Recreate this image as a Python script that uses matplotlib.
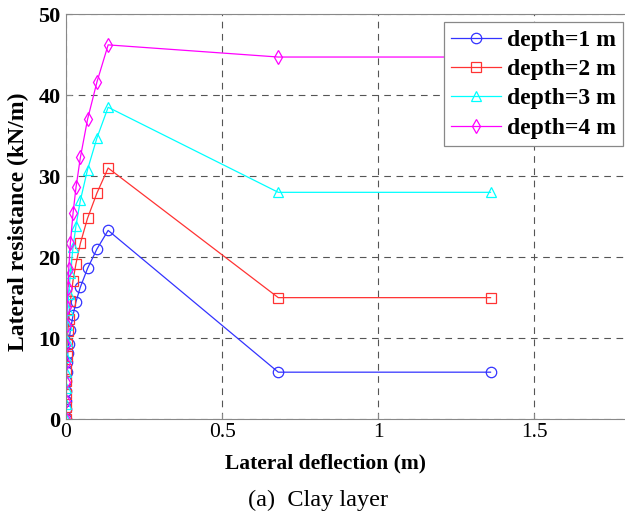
import matplotlib.pyplot as plt

plt.rcParams['font.family'] = ['Liberation Serif', 'DejaVu Serif']

# lateral deflection (m), shared by all depths
deflection = [0, 0.00002, 0.00014, 0.00046, 0.0011, 0.0021, 0.0037, 0.0058, 0.0087,
              0.014, 0.0225, 0.032, 0.046, 0.069, 0.099, 0.135, 0.68, 1.36]

# lateral resistance (kN/m) at each depth
p_depth1 = [0, 1.2, 2.3, 3.5, 4.7, 5.8, 7.0, 8.2, 9.3,
            11.0, 12.8, 14.5, 16.3, 18.6, 21.0, 23.3, 5.8, 5.8]
p_depth2 = [0, 1.55, 3.1, 4.65, 6.2, 7.75, 9.3, 10.9, 12.4,
            14.6, 17.1, 19.2, 21.7, 24.8, 27.9, 31.0, 15.0, 15.0]
p_depth3 = [0, 1.9, 3.85, 5.8, 7.7, 9.6, 11.6, 13.5, 15.4,
            18.1, 21.2, 23.9, 27.0, 30.8, 34.7, 38.5, 28.0, 28.0]
p_depth4 = [0, 2.3, 4.6, 6.9, 9.2, 11.6, 13.9, 16.2, 18.5,
            21.7, 25.4, 28.6, 32.3, 37.0, 41.6, 46.2, 44.7, 44.7]

labels = ['depth=1 m', 'depth=2 m', 'depth=3 m', 'depth=4 m']
colors = ['#3333ff', '#ff3333', '#00ffff', '#ff00ff']
markers = ['o', 's', '^', 'd']

fig = plt.figure(figsize=(6.25, 5.22), dpi=100)
ax = fig.add_axes([0.1056, 0.197, 0.899, 0.776])

for p, lab, c, m in zip([p_depth1, p_depth2, p_depth3, p_depth4], labels, colors, markers):
    ax.plot(deflection, p, color=c, marker=m, markersize=7.5, markerfacecolor='none',
            markeredgewidth=0.9, linewidth=0.9, label=lab)

ax.set_xlim(0, 1.8)
ax.set_ylim(0, 50)
ax.set_xticks([0, 0.5, 1, 1.5])
ax.set_xticklabels(['0', '0.5', '1', '1.5'])
ax.set_yticks([0, 10, 20, 30, 40, 50])
ax.grid(True, linestyle=(0, (6, 5)), color='#555555', linewidth=0.8)
ax.tick_params(direction='in', colors='#888888', labelcolor='black', length=4)
ax.tick_params(axis='x', labelsize=15.5, pad=3)
ax.tick_params(axis='y', labelsize=16, pad=4)
for lbl in ax.get_yticklabels():
    lbl.set_fontweight('bold')
for s in ax.spines.values():
    s.set_color('#888888')

# labels placed by hand in figure coordinates
fig.text(326 / 625, 1 - 463 / 522, 'Lateral deflection (m)', ha='center', va='center',
         fontsize=15.5, fontweight='bold')
fig.text(18 / 625, 1 - 222 / 522, 'Lateral resistance (kN/m)', ha='center', va='center',
         rotation=90, fontsize=17, fontweight='bold')

leg = ax.legend(loc='upper right', bbox_to_anchor=(0.991, 0.98), fancybox=False,
                framealpha=1, prop={'weight': 'bold', 'size': 17}, handlelength=2.1,
                borderpad=0.3, labelspacing=0.33, handletextpad=0.25, borderaxespad=0)
leg.get_frame().set_edgecolor('#888888')
leg.get_frame().set_linewidth(0.9)

fig.text(318 / 625, 1 - 500 / 522, '(a)  Clay layer', ha='center', va='center', fontsize=17.5)

fig.savefig('out.png', dpi=100)
